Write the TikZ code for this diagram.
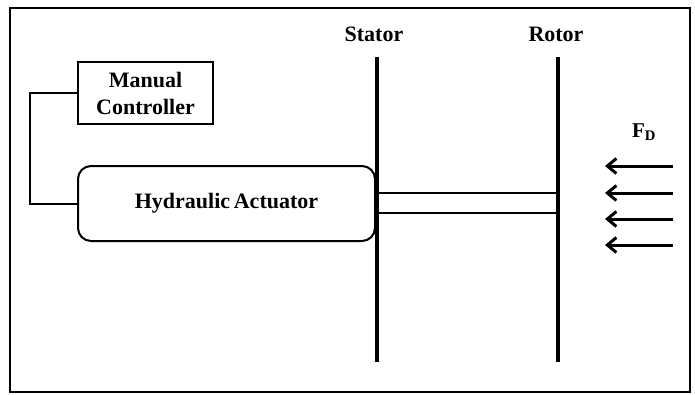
\documentclass[tikz,border=0pt]{standalone}
\usepackage{fontspec}
\setmainfont{Liberation Serif}
\usetikzlibrary{arrows.meta}
\tikzset{
  lbl/.style={font=\fontsize{22}{26}\selectfont\bfseries, inner sep=0pt},
  ctrlbox/.style={draw, line width=1.3pt, align=center, minimum width=135pt, minimum height=62pt, inner sep=0pt, font=\fontsize{22}{27}\selectfont\bfseries},
  actbox/.style={draw, line width=2pt, rounded corners=13pt, minimum width=297pt, minimum height=75pt, inner sep=0pt, font=\fontsize{22}{26}\selectfont\bfseries},
  plate/.style={line width=4.5pt},
  shaft/.style={line width=2pt},
  wire/.style={line width=2pt},
  force/.style={line width=3pt, -{Straight Barb[length=9pt,width=15pt,line width=3pt]}},
}
\begin{document}
\begin{tikzpicture}[x=1pt,y=-1pt]
\useasboundingbox (0,0) rectangle (695,394);
% outer frame
\draw[line width=2pt] (10,8) rectangle (690,392);

% control blocks
\node[ctrlbox] (mc) at (145.5,93) {Manual\\[0pt]Controller};
\node[actbox] (ha) at (226.5,203.5) {Hydraulic\,Actuator};
\draw[wire] (mc.west) -| (30,150) |- (ha.west);

% stator and rotor plates
\coordinate (st) at (377,57);
\coordinate (sb) at (377,362);
\coordinate (rt) at (558,57);
\coordinate (rb) at (558,362);
\draw[plate] (st) -- (sb);
\draw[plate] (rt) -- (rb);
\node[lbl] (sl) at (374,34) {Stator};
\node[lbl] (rl) at (556,34) {Rotor};

% shaft between the plates
\coordinate (s1) at (377,193);
\coordinate (s2) at (377,213);
\coordinate (r1) at (558,193);
\coordinate (r2) at (558,213);
\draw[shaft] (s1) -- (r1);
\draw[shaft] (s2) -- (r2);

% disturbance force
\node[lbl, font=\fontsize{21}{24}\selectfont\bfseries] (fd) at (644,132) {F\textsubscript{D}};
\foreach \i/\yy in {1/166,2/193,3/219,4/245}{
  \coordinate (fa\i) at (673,\yy);
  \coordinate (fb\i) at (605,\yy);
  \draw[force] (fa\i) -- (fb\i);
}
\end{tikzpicture}
\end{document}
